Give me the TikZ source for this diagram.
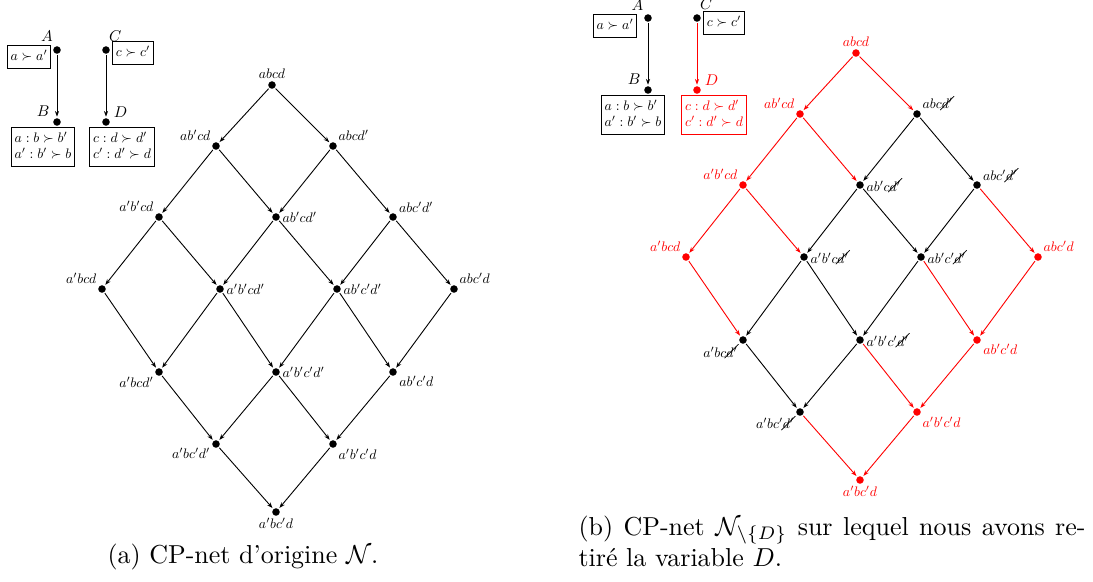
\documentclass[tikz,border=0pt]{standalone}
\usepackage{amsmath,amssymb}
\usepackage{graphicx}
\usepackage{cancel}
\usetikzlibrary{arrows.meta}
\newcommand{\lb}[1]{\scalebox{0.53}{$#1$}}
\newcommand{\vb}[1]{\scalebox{0.6}{$#1$}}
\newcommand{\cb}[1]{\scalebox{0.53}{$\begin{array}{@{}l@{}}#1\end{array}$}}
\tikzset{
  x=0.385pt, y=-0.385pt,
  dot/.style={circle,fill,inner sep=0pt,minimum size=2.9pt},
  lbl/.style={inner sep=0.7pt, text=black},
  rlbl/.style={lbl, text=red},
  vlbl/.style={inner sep=0.6pt, label distance=0.8pt},
  arr/.style={-{Stealth[length=2.2pt,width=1.6pt]}, line width=0.35pt, shorten >=0.4pt, shorten <=0.3pt},
  cpt/.style={draw, line width=0.4pt, inner sep=1.2pt},
  redarr/.style={arr, red},
  capt/.style={font=\fontsize{10}{12}\selectfont, inner sep=0pt}
}
\begin{document}
\begin{tikzpicture}
\useasboundingbox (0,0) rectangle (1093,581);

% ---------- (a) CP-net ----------
\node[dot,label={[vlbl]110:\vb{A}}] (A) at (57,50) {};
\node[dot,label={[vlbl]150:\vb{B}}] (B) at (57,122) {};
\node[dot,label={[vlbl]80:\vb{C}}] (C) at (106,50) {};
\node[dot,label={[vlbl]25:\vb{D}}] (D) at (106,122) {};
\node[cpt] (TA) at (29,57) {\cb{a\succ a'}};
\node[cpt] (TC) at (133,53) {\cb{c\succ c'}};
\node[cpt] (TB) at (43,147) {\cb{a:b\succ b'\\a':b'\succ b}};
\node[cpt] (TD) at (122,147) {\cb{c:d\succ d'\\c':d'\succ d}};
\draw[arr] (A) -- (B);
\draw[arr] (C) -- (D);

% ---------- (a) lattice ----------
\node[dot,label={[lbl]above:\lb{abcd}}] (L1) at (272,85) {};
\node[dot,label={[lbl]140:\lb{ab'cd}}] (L2) at (216,146) {};
\node[dot,label={[lbl]40:\lb{abcd'}}] (L3) at (333,146) {};
\node[dot,label={[lbl]140:\lb{a'b'cd}}] (L4) at (159,217) {};
\node[dot,label={[lbl]right:\lb{ab'cd'}}] (L5) at (276,217) {};
\node[dot,label={[lbl]30:\lb{abc'd'}}] (L6) at (393,217) {};
\node[dot,label={[lbl]140:\lb{a'bcd}}] (L7) at (102,289) {};
\node[dot,label={[lbl]right:\lb{a'b'cd'}}] (L8) at (220,289) {};
\node[dot,label={[lbl]right:\lb{ab'c'd'}}] (L9) at (337,289) {};
\node[dot,label={[lbl]40:\lb{abc'd}}] (L10) at (454,289) {};
\node[dot,label={[lbl]220:\lb{a'bcd'}}] (L11) at (159,372) {};
\node[dot,label={[lbl]right:\lb{a'b'c'd'}}] (L12) at (276,372) {};
\node[dot,label={[lbl]-20:\lb{ab'c'd}}] (L13) at (393,372) {};
\node[dot,label={[lbl]210:\lb{a'bc'd'}}] (L14) at (216,444) {};
\node[dot,label={[lbl]-40:\lb{a'b'c'd}}] (L15) at (333,444) {};
\node[dot,label={[lbl]below:\lb{a'bc'd}}] (L16) at (276,512) {};
\foreach \s/\t in {1/2,1/3,2/4,2/5,3/5,3/6,4/7,4/8,5/8,5/9,6/9,6/10,7/11,8/11,8/12,9/12,9/13,10/13,11/14,12/14,12/15,13/15,14/16,15/16}
  \draw[arr] (L\s) -- (L\t);

\node[capt, anchor=base west] (CA) at (107,563) {(a) CP-net d'origine $\mathcal{N}$.};

% ---------- (b) CP-net ----------
\node[dot,label={[vlbl]115:\vb{A}}] (RA) at (648,18) {};
\node[dot,label={[vlbl]150:\vb{B}}] (RB) at (648,90) {};
\node[dot,label={[vlbl]80:\vb{C}}] (RC) at (697,18) {};
\node[dot,red,label={[vlbl,text=red]25:\vb{D}}] (RD) at (697,90) {};
\node[cpt] (RTA) at (615,26) {\cb{a\succ a'}};
\node[cpt] (RTC) at (724,23) {\cb{c\succ c'}};
\node[cpt] (RTB) at (633,115) {\cb{a:b\succ b'\\a':b'\succ b}};
\node[cpt,red] (RTD) at (714,115) {\cb{c:d\succ d'\\c':d'\succ d}};
\draw[arr] (RA) -- (RB);
\draw[redarr] (RC) -- (RD);

% ---------- (b) lattice ----------
\begin{scope}[shift={(584,-32)}]
\node[dot,red,label={[rlbl]above:\lb{abcd}}] (R1) at (272,85) {};
\node[dot,red,label={[rlbl]140:\lb{ab'cd}}] (R2) at (216,146) {};
\node[dot,label={[lbl]40:\lb{abc\cancel{d'}}}] (R3) at (333,146) {};
\node[dot,red,label={[rlbl]140:\lb{a'b'cd}}] (R4) at (159,217) {};
\node[dot,label={[lbl]right:\lb{ab'c\cancel{d'}}}] (R5) at (276,217) {};
\node[dot,label={[lbl]30:\lb{abc'\cancel{d'}}}] (R6) at (393,217) {};
\node[dot,red,label={[rlbl]140:\lb{a'bcd}}] (R7) at (102,289) {};
\node[dot,label={[lbl]right:\lb{a'b'c\cancel{d'}}}] (R8) at (220,289) {};
\node[dot,label={[lbl]right:\lb{ab'c'\cancel{d'}}}] (R9) at (337,289) {};
\node[dot,red,label={[rlbl]40:\lb{abc'd}}] (R10) at (454,289) {};
\node[dot,label={[lbl]220:\lb{a'bc\cancel{d'}}}] (R11) at (159,372) {};
\node[dot,label={[lbl]right:\lb{a'b'c'\cancel{d'}}}] (R12) at (276,372) {};
\node[dot,red,label={[rlbl]-20:\lb{ab'c'd}}] (R13) at (393,372) {};
\node[dot,label={[lbl]210:\lb{a'bc'\cancel{d'}}}] (R14) at (216,444) {};
\node[dot,red,label={[rlbl]-40:\lb{a'b'c'd}}] (R15) at (333,444) {};
\node[dot,red,label={[rlbl]below:\lb{a'bc'd}}] (R16) at (276,512) {};
\end{scope}
\foreach \s/\t in {1/2,1/3,2/4,2/5,4/7,4/8,6/10,7/11,9/13,10/13,12/15,13/15,14/16,15/16}
  \draw[redarr] (R\s) -- (R\t);
\foreach \s/\t in {3/5,3/6,5/8,5/9,6/9,8/11,8/12,9/12,11/14,12/14}
  \draw[arr] (R\s) -- (R\t);

\node[capt, anchor=base west, text width=195.2pt, align=justify] (CB) at (578,535)
  {(b) CP-net $\mathcal{N}_{\setminus\{D\}}$ sur lequel nous avons re-\linebreak tiré la variable $D$.};
\end{tikzpicture}
\end{document}
